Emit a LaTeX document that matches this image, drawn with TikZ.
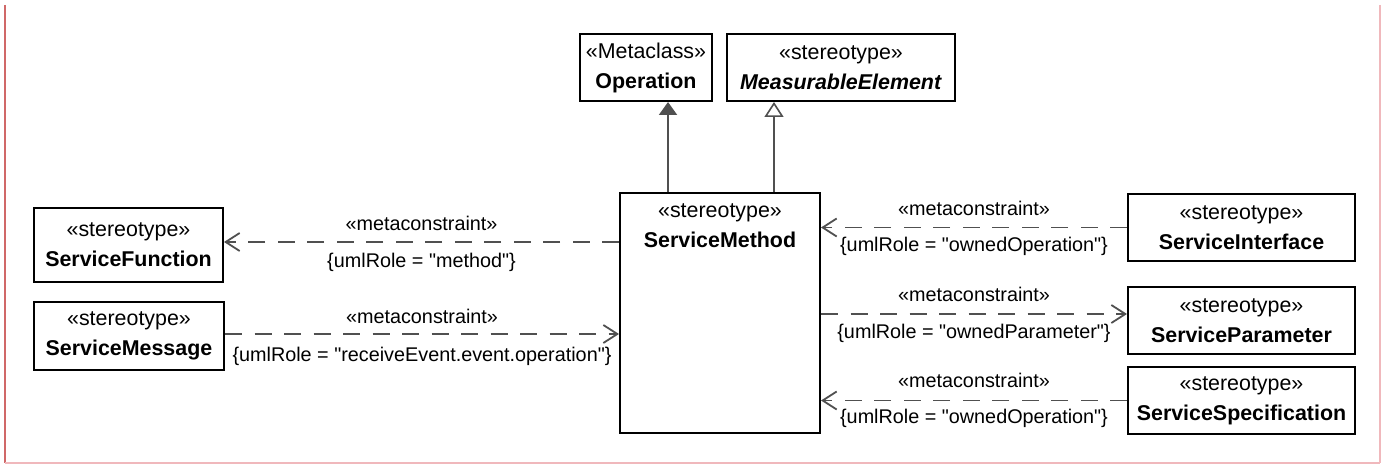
\documentclass[tikz,border=0pt]{standalone}
\usepackage{fontspec}
\setmainfont{Liberation Sans}[Ligatures=TeXOff]
\usetikzlibrary{arrows.meta}
\definecolor{conn}{HTML}{505050}
\definecolor{frameL}{HTML}{D06868}
\definecolor{frameR}{HTML}{F0B8BC}
\begin{document}
\begin{tikzpicture}[x=0.5pt,y=-0.5pt,
  cls/.style={draw=black, line width=1pt, fill=white, inner sep=0pt, align=center,
    font=\fontsize{10.7}{15}\selectfont},
  clstext/.style={inner sep=0pt, align=center, font=\fontsize{10.7}{15}\selectfont},
  dep/.style={draw=conn, line width=0.9pt, dash pattern=on 8.5pt off 6.25pt,
    -{Straight Barb[length=7pt,width=9pt,line width=0.9pt]}},
  genfill/.style={draw=conn, line width=1pt, -{Triangle[length=6.5pt,width=9pt,fill=conn]}},
  genopen/.style={draw=conn, line width=0.9pt, -{Triangle[open,length=7.5pt,width=9.5pt,line width=0.8pt,fill=white]}},
  lab/.style={inner sep=0pt, font=\fontsize{9.9}{12}\selectfont, text height=7pt, text depth=2pt},
  ]
\useasboundingbox (0,0) rectangle (1385,465);
% frame
\draw[frameL, line width=0.6pt] (5,5) -- (5,463);
\draw[frameR, line width=0.6pt] (1380,5) -- (1380,463);
\draw[frameR, line width=0.9pt] (5,463) -- (1380,463);

% classes
\node[cls, minimum width=66pt, minimum height=33.5pt] (op) at (646,67.5)
  {«Metaclass»\\\textbf{Operation}};
\node[cls, minimum width=114pt, minimum height=33.5pt] (me) at (841,67.5)
  {«stereotype»\\\textbf{\textit{MeasurableElement}}};
\node[cls, minimum width=100pt, minimum height=120pt] (sm) at (720,313) {};
\node[clstext] (smt) at ([yshift=-17pt]sm.north) {«stereotype»\\\textbf{ServiceMethod}};
\node[cls, minimum width=94.5pt, minimum height=37pt] (sf) at (128.5,245)
  {«stereotype»\\\textbf{ServiceFunction}};
\node[cls, minimum width=95pt, minimum height=34pt] (smsg) at (129,336)
  {«stereotype»\\\textbf{ServiceMessage}};
\node[cls, minimum width=113.5pt, minimum height=33.5pt] (si) at (1241.5,227.5)
  {«stereotype»\\\textbf{ServiceInterface}};
\node[cls, minimum width=113.5pt, minimum height=33.5pt] (sp) at (1241.5,320.5)
  {«stereotype»\\\textbf{ServiceParameter}};
\node[cls, minimum width=113.5pt, minimum height=33.5pt] (ss) at (1241.5,400.5)
  {«stereotype»\\\textbf{ServiceSpecification}};

% generalizations
\draw[genfill] ([xshift=-26pt]sm.north) -- ([xshift=-26pt]sm.north |- op.south);
\draw[genopen] ([xshift=27pt]sm.north) -- ([xshift=27pt]sm.north |- me.south);

% metaconstraints
\draw[dep] ([yshift=1.5pt]sm.west |- sf.east) -- ([yshift=1.5pt]sf.east)
  node[lab, midway, yshift=8.5pt] (l1a) {«metaconstraint»}
  node[lab, midway, yshift=-10pt] (l1b) {\{umlRole = "method"\}};
\draw[dep] ([yshift=1pt]smsg.east) -- ([yshift=1pt]smsg.east -| sm.west)
  node[lab, midway, yshift=8pt] (l2a) {«metaconstraint»}
  node[lab, midway, yshift=-11pt] (l2b) {\{umlRole = "receiveEvent.event.operation"\}};
\draw[dep] (si.west) -- (si.west -| sm.east)
  node[lab, midway, yshift=8.5pt] (l3a) {«metaconstraint»}
  node[lab, midway, yshift=-9.5pt] (l3b) {\{umlRole = "ownedOperation"\}};
\draw[dep] ([yshift=3.25pt]sp.west -| sm.east) -- ([yshift=3.25pt]sp.west)
  node[lab, midway, yshift=9pt] (l4a) {«metaconstraint»}
  node[lab, midway, yshift=-9.5pt] (l4b) {\{umlRole = "ownedParameter"\}};
\draw[dep] (ss.west) -- (ss.west -| sm.east)
  node[lab, midway, yshift=9pt] (l5a) {«metaconstraint»}
  node[lab, midway, yshift=-9pt] (l5b) {\{umlRole = "ownedOperation"\}};
\end{tikzpicture}
\end{document}
